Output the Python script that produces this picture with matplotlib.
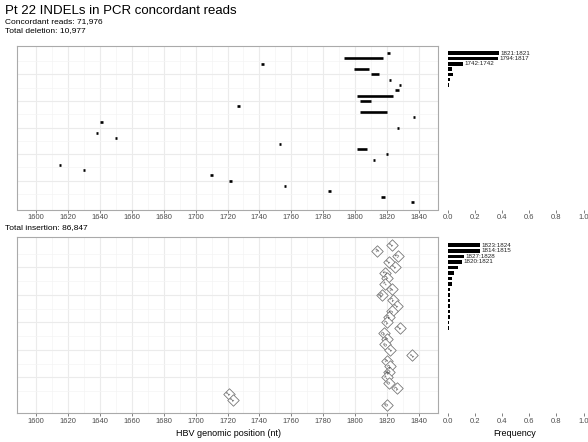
# Pt 22 INDELs in PCR concordant reads
# deletion / insertion positions and their frequencies

import numpy as np
import matplotlib
matplotlib.use("Agg")
import matplotlib.pyplot as plt

plt.rcParams['font.family'] = ['Liberation Sans', 'DejaVu Sans']

### -----------------------------------------
# Datos

# Deleciones (ordenadas por frecuencia, de arriba a abajo)
del_start = [1821, 1794, 1742, 1800, 1811, 1822, 1828, 1826, 1802, 1804,
             1727, 1804, 1837, 1641, 1827, 1638, 1650, 1753, 1802, 1820,
             1812, 1615, 1630, 1710, 1722, 1756, 1784, 1817, 1836]
del_end = [1821, 1817, 1742, 1808, 1814, 1822, 1828, 1827, 1823, 1809,
           1727, 1819, 1837, 1641, 1827, 1638, 1650, 1753, 1807, 1820,
           1812, 1615, 1630, 1710, 1722, 1756, 1784, 1818, 1836]
del_freq = [0.38, 0.37, 0.115, 0.035, 0.04, 0.015, 0.008, 0.007, 0.006, 0.005,
            0.004, 0.004, 0.003, 0.003, 0.002, 0.002, 0.002, 0.0015, 0.0015, 0.001,
            0.001, 0.001, 0.001, 0.001, 0.001, 0.001, 0.001, 0.001, 0.001]
del_labels = ["1821:1821", "1794:1817", "1742:1742"]

# Insercións (posición e lonxitude)
ins_pos = [1823, 1814, 1827, 1821, 1825, 1819, 1820, 1819, 1823, 1817,
           1823.5, 1826, 1823, 1821, 1820, 1828, 1818, 1820, 1819, 1822,
           1836, 1820, 1822, 1821, 1820, 1821, 1826, 1721, 1723.5, 1820]
ins_len = [1, 4, 5, 1, 1, 5, 3, 7, 4, 10,
           2, 1, 5, 2, 3, 1, 9, 4, 6, 1,
           1, 4, 2, 10, 7, 6, 3, 1, 1, 6]
ins_freq = [0.24, 0.24, 0.12, 0.11, 0.08, 0.05, 0.03, 0.03, 0.02, 0.02,
            0.02, 0.02, 0.015, 0.015, 0.01, 0.01, 0.003, 0.002, 0.002, 0.002,
            0.001, 0.001, 0.001, 0.001, 0.001, 0.001, 0.001, 0.001, 0.001, 0.001]
ins_labels = ["1823:1824", "1814:1815", "1827:1828", "1820:1821"]

xticks = np.arange(1600, 1841, 20)
fticks = [0.0, 0.2, 0.4, 0.6, 0.8, 1.0]

### -----------------------------------------

W, H = 588, 442
fig = plt.figure(figsize=(W / 100, H / 100), dpi=100)

def box(l, t, r, b):
    return [l / W, 1 - b / H, (r - l) / W, (b - t) / H]

grid_col = "#ebebeb"
tick_col = "#4d4d4d"

def estilo_panel(ax, n):
    ax.set_xlim(1588, 1852)
    pad = 0.05 * (n - 1)
    ax.set_ylim(n + pad, 1 - pad)
    ax.set_xticks(xticks)
    ax.set_xticks(xticks[:-1] + 10, minor=True)
    ax.set_yticks([5, 10, 15, 20, 25])
    ax.set_yticks([2.5, 7.5, 12.5, 17.5, 22.5, 27.5], minor=True)
    ax.grid(True, which="major", color=grid_col, lw=0.8)
    ax.grid(True, which="minor", color="#f4f4f4", lw=0.5)
    ax.set_axisbelow(True)
    ax.tick_params(axis="x", which="major", labelsize=5.5, colors=tick_col,
                   length=2, width=0.5, pad=1.5)
    ax.tick_params(axis="x", which="minor", length=0)
    ax.tick_params(axis="y", which="both", length=0, labelleft=False)
    for s in ax.spines.values():
        s.set_color("#aaaaaa")
        s.set_linewidth(0.8)

def estilo_hist(ax, n):
    pad = 0.05 * (n - 1)
    ax.set_ylim(n + pad, 1 - pad)
    ax.set_xlim(0, 1)
    ax.set_xticks(fticks)
    ax.set_xticklabels(["%.1f" % v for v in fticks])
    ax.set_yticks([])
    ax.tick_params(axis="x", labelsize=5.5, colors=tick_col, length=2,
                   width=0.5, pad=1.5)
    for s in ax.spines.values():
        s.set_visible(False)
    ax.patch.set_alpha(0)

### -----------------------------------------
# Deleciones

ax1 = fig.add_axes(box(17, 45.7, 438, 209.5))
nd = len(del_start)
filas_d = np.arange(1, nd + 1)
ax1.hlines(filas_d, np.array(del_start) - 0.75, np.array(del_end) + 0.75,
           color="black", lw=1.9, capstyle="butt")
estilo_panel(ax1, nd)

hx1 = fig.add_axes(box(447.5, 45.7, 583.5, 209.5))
hx1.barh(filas_d, del_freq, height=0.65, color="black")
for i, lab in enumerate(del_labels):
    hx1.text(del_freq[i] + 0.01, filas_d[i], lab, fontsize=4.5,
             va="center", ha="left", color="#222222")
estilo_hist(hx1, nd)

### -----------------------------------------
# Insercións

ax2 = fig.add_axes(box(17, 237.3, 438, 413))
ni = len(ins_pos)
filas_i = np.arange(1, ni + 1)
ax2.scatter(ins_pos, filas_i, marker="D", s=34, facecolor="white",
            edgecolor="#777777", linewidths=0.6, zorder=3)
for x, y, n in zip(ins_pos, filas_i, ins_len):
    ax2.text(x, y, str(n), fontsize=4, rotation=45, color="#333333",
             ha="center", va="center", rotation_mode="anchor", zorder=4)
estilo_panel(ax2, ni)

hx2 = fig.add_axes(box(447.5, 237.3, 583.5, 413))
hx2.barh(filas_i, ins_freq, height=0.65, color="black")
for i, lab in enumerate(ins_labels):
    hx2.text(ins_freq[i] + 0.01, filas_i[i], lab, fontsize=4.5,
             va="center", ha="left", color="#222222")
estilo_hist(hx2, ni)

### -----------------------------------------
# Textos

fig.text(5 / W, 1 - 11 / H, "Pt 22 INDELs in PCR concordant reads",
         fontsize=9.5, va="center", ha="left")
fig.text(5 / W, 1 - 22 / H, "Concordant reads: 71,976", fontsize=6,
         va="center", ha="left")
fig.text(5 / W, 1 - 31 / H, "Total deletion: 10,977", fontsize=6,
         va="center", ha="left")
fig.text(5 / W, 1 - 228 / H, "Total insertion: 86,847", fontsize=6,
         va="center", ha="left")
fig.text(228 / W, 1 - 434 / H, "HBV genomic position (nt)", fontsize=6.5,
         va="center", ha="center")
fig.text(515 / W, 1 - 434 / H, "Frequency", fontsize=6.5,
         va="center", ha="center")

fig.savefig("out.png", dpi=100)
